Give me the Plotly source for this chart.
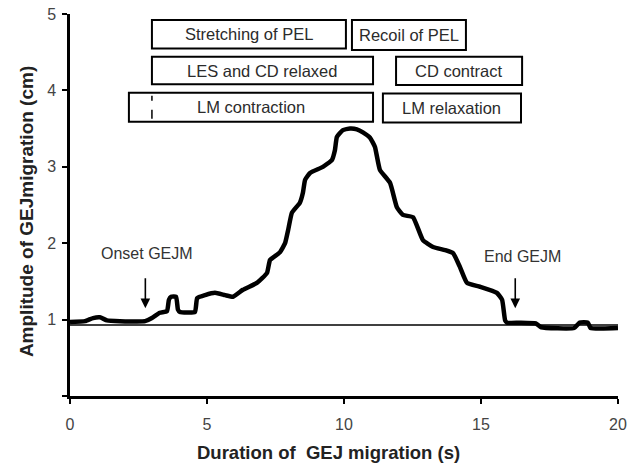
import plotly.graph_objects as go

# GEJ migration trace: time (s) vs amplitude (cm)
time_s = [0.0, 0.55, 0.84, 1.09, 1.35, 1.82, 2.74, 2.99, 3.28, 3.54, 3.61, 3.69, 3.87,
          3.94, 4.01, 4.56, 4.64, 4.93, 5.29, 5.66, 5.95, 6.31, 6.82, 7.19, 7.30,
          7.66, 7.85, 7.96, 8.10, 8.39, 8.50, 8.58, 8.76, 9.23, 9.56, 9.67, 9.74,
          9.96, 10.22, 10.47, 10.69, 10.95, 11.13, 11.31, 11.68, 11.93, 12.15, 12.52,
          12.88, 13.25, 13.69, 13.98, 14.23, 14.49, 14.96, 15.58, 15.77, 15.88, 15.95,
          16.42, 17.0, 17.2, 18.4, 18.6, 18.9, 19.0, 20.0]
amplitude_cm = [0.97, 0.98, 1.02, 1.03, 0.99, 0.98, 0.98, 1.02, 1.09, 1.11, 1.26, 1.30,
                1.30, 1.13, 1.10, 1.10, 1.28, 1.32, 1.35, 1.32, 1.30, 1.39, 1.48, 1.61,
                1.78, 1.88, 2.00, 2.17, 2.40, 2.53, 2.66, 2.83, 2.92, 3.00, 3.09, 3.22,
                3.39, 3.48, 3.50, 3.49, 3.45, 3.38, 3.26, 2.96, 2.79, 2.47, 2.37, 2.34,
                2.04, 1.95, 1.91, 1.87, 1.69, 1.48, 1.43, 1.35, 1.26, 0.99, 0.96, 0.96,
                0.95, 0.90, 0.89, 0.96, 0.96, 0.89, 0.89]

baseline_cm = 0.93

# Phase bars: label, start (s), end (s), lower and upper level (cm)
phase_labels = ["Stretching of PEL", "Recoil of PEL", "LES and CD relaxed",
                "CD contract", "LM contraction", "LM relaxation"]
phase_start = [2.99, 10.29, 2.99, 11.9, 2.15, 11.42]
phase_end = [10.07, 14.45, 11.06, 16.5, 11.06, 16.46]
phase_low = [4.55, 4.53, 4.08, 4.07, 3.59, 3.58]
phase_high = [4.92, 4.92, 4.44, 4.44, 3.97, 3.96]
lm_marker_s = 2.99

onset_s = 2.75
end_s = 16.25

x_ticks = [0, 5, 10, 15, 20]
y_ticks = [0, 1, 2, 3, 4, 5]
y_ticktext = ["", "1", "2", "3", "4", "5"]

FONT = "Liberation Sans, Arial, sans-serif"

fig = go.Figure()
fig.add_trace(go.Scatter(x=[0, 20], y=[baseline_cm, baseline_cm], mode="lines",
                         line=dict(color="black", width=1.6), hoverinfo="skip"))
fig.add_trace(go.Scatter(x=time_s, y=amplitude_cm, mode="lines",
                         line=dict(color="black", width=4.5, shape="spline", smoothing=0.4),
                         hoverinfo="skip"))

shapes = []
annotations = []
for lab, x0, x1, y0, y1 in zip(phase_labels, phase_start, phase_end, phase_low, phase_high):
    shapes.append(dict(type="rect", xref="x", yref="y", x0=x0, x1=x1, y0=y0, y1=y1,
                       line=dict(color="black", width=2), fillcolor="white", layer="above"))
    annotations.append(dict(x=(x0 + x1) / 2, y=(y0 + y1) / 2, xref="x", yref="y",
                            text=lab, showarrow=False,
                            font=dict(family=FONT, size=16.5, color="#2b2b2b")))

# dashed marker inside the LM contraction bar
lm_idx = phase_labels.index("LM contraction")
shapes.append(dict(type="line", xref="x", yref="y", x0=lm_marker_s, x1=lm_marker_s,
                   y0=phase_low[lm_idx] + 0.04, y1=phase_high[lm_idx] - 0.04,
                   line=dict(color="black", width=1.5, dash="dash"), layer="above"))

for label, t, ty in [("Onset GEJM", onset_s, 1.86), ("End GEJM", end_s, 1.82)]:
    annotations.append(dict(x=t, y=1.15, ax=t, ay=1.56, xref="x", yref="y",
                            axref="x", ayref="y", text="", showarrow=True,
                            arrowhead=2, arrowsize=1.2, arrowwidth=1.6, arrowcolor="black"))
    annotations.append(dict(x=t + (0.06 if label.startswith("Onset") else 0.28), y=ty,
                            xref="x", yref="y", text=label, showarrow=False,
                            font=dict(family=FONT, size=16, color="#333333")))

annotations.append(dict(x=0.4726, y=-0.147, xref="paper", yref="paper",
                        text="<b>Duration of&nbsp; GEJ migration (s)</b>", showarrow=False,
                        xanchor="center", yanchor="middle",
                        font=dict(family=FONT, size=18.5, color="#222222")))
annotations.append(dict(x=-0.0803, y=0.484, xref="paper", yref="paper",
                        text="<b>Amplitude of GEJmigration (cm)</b>", showarrow=False,
                        textangle=-90, xanchor="center", yanchor="middle",
                        font=dict(family=FONT, size=19, color="#222222")))

fig.update_layout(
    width=627, height=466,
    margin=dict(l=70, r=9, t=14, b=70, autoexpand=False),
    paper_bgcolor="white", plot_bgcolor="white",
    showlegend=False,
    shapes=shapes, annotations=annotations,
    font=dict(family=FONT, size=16, color="#444444"),
)
fig.update_xaxes(range=[0, 20], tickvals=x_ticks, showgrid=False, zeroline=False,
                 showline=True, linecolor="black", linewidth=2.5, automargin=False,
                 ticks="outside", ticklen=5, tickwidth=2, tickcolor="black",
                 ticklabelstandoff=7,
                 tickfont=dict(family=FONT, size=16, color="#444444"))
fig.update_yaxes(range=[0, 5], tickvals=y_ticks, ticktext=y_ticktext, showgrid=False,
                 zeroline=False, showline=True, linecolor="black", linewidth=2.5,
                 automargin=False, ticklabelstandoff=3,
                 ticks="outside", ticklen=5, tickwidth=2, tickcolor="black",
                 tickfont=dict(family=FONT, size=16, color="#444444"))

fig.write_html("out.html")
